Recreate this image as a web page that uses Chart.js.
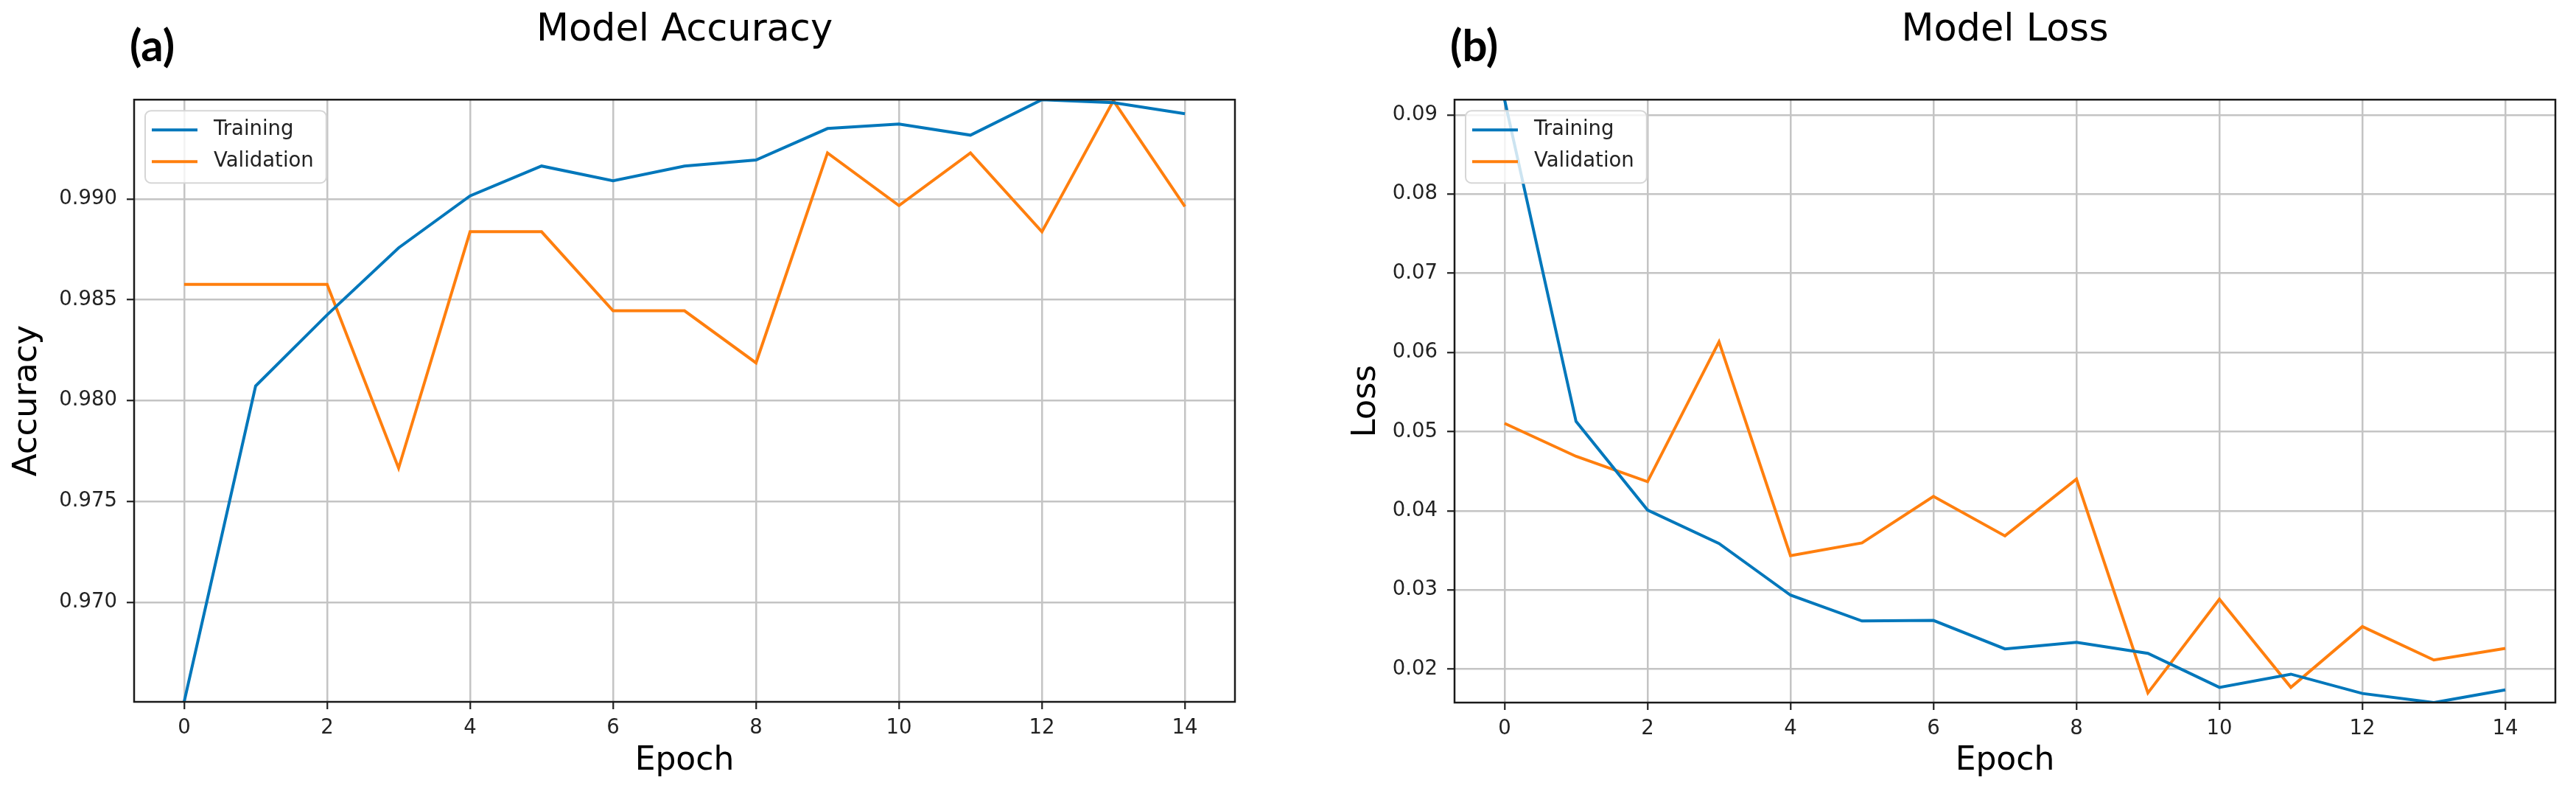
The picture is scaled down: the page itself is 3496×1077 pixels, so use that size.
<!DOCTYPE html>
<html>
<head>
<meta charset="utf-8">
<title>Model Accuracy / Model Loss</title>
<script src="https://cdn.jsdelivr.net/npm/chart.js@4.4.1/dist/chart.umd.min.js"></script>
<style>
  html, body { margin: 0; padding: 0; background: #fff; }
  #wrap { position: relative; width: 3496px; height: 1077px; }
  canvas { position: absolute; top: 0; }
  #accChart { left: 0; }
  #lossChart { left: 1748px; }
</style>
</head>
<body>
<div id="wrap">
  <canvas id="accChart" width="1748" height="1077"></canvas>
  <canvas id="lossChart" width="1748" height="1077"></canvas>
</div>
<script>
// epochs (x axis)
const epochs = [0, 1, 2, 3, 4, 5, 6, 7, 8, 9, 10, 11, 12, 13, 14];
const epochTicks = [0, 2, 4, 6, 8, 10, 12, 14];

// (a) accuracy
const accTraining = [0.96506, 0.98072, 0.98425, 0.98757, 0.99015, 0.99163, 0.99090, 0.99163,
                     0.99193, 0.99349, 0.99371, 0.99316, 0.99492, 0.99477, 0.99422];
const accValidation = [0.98576, 0.98576, 0.98576, 0.97665, 0.98837, 0.98837, 0.98445, 0.98445,
                       0.98187, 0.99228, 0.98967, 0.99228, 0.98837, 0.99487, 0.98962];
const accTicks = [0.970, 0.975, 0.980, 0.985, 0.990];

// (b) loss
const lossTraining = [0.09192, 0.05129, 0.04010, 0.03587, 0.02935, 0.02608, 0.02615, 0.02256,
                      0.02340, 0.02199, 0.01770, 0.01937, 0.01693, 0.01578, 0.01738];
const lossValidation = [0.05104, 0.04688, 0.04368, 0.06134, 0.03434, 0.03594, 0.04182, 0.03683,
                        0.04400, 0.01700, 0.02884, 0.01770, 0.02538, 0.02116, 0.02263];
const lossTicks = [0.02, 0.03, 0.04, 0.05, 0.06, 0.07, 0.08, 0.09];

const TRAIN_COLOR = '#0077bb';
const VAL_COLOR = '#ff7f0e';
const TEXT_COLOR = '#222';

Chart.defaults.font.family = '"DejaVu Sans", sans-serif';
Chart.defaults.color = TEXT_COLOR;

// box around the plot area (all four spines)
const axesFrame = {
    id: 'axesFrame',
    afterDatasetsDraw(chart) {
        const { ctx, chartArea: a } = chart;
        ctx.save();
        ctx.strokeStyle = '#1a1a1a';
        ctx.lineWidth = 2.5;
        ctx.strokeRect(a.left, a.top, a.right - a.left, a.bottom - a.top);
        ctx.restore();
    }
};

// legend with a rounded frame, drawn inside the upper left corner
const boxLegend = {
    id: 'boxLegend',
    afterDraw(chart) {
        const { ctx, chartArea: a } = chart;
        const sets = chart.data.datasets;
        ctx.save();
        ctx.font = '27.5px "DejaVu Sans"';
        const textW = Math.max(...sets.map(d => ctx.measureText(d.label).width));
        const x = a.left + 15, y = a.top + 15;
        const w = 9 + 62 + 22 + textW + 17, h = 98;
        ctx.beginPath();
        ctx.roundRect(x, y, w, h, 8);
        ctx.fillStyle = 'rgba(255,255,255,0.8)';
        ctx.fill();
        ctx.strokeStyle = '#d6d6d6';
        ctx.lineWidth = 2;
        ctx.stroke();
        sets.forEach((d, i) => {
            const ly = y + 26 + i * 43;
            ctx.beginPath();
            ctx.moveTo(x + 9, ly);
            ctx.lineTo(x + 71, ly);
            ctx.strokeStyle = d.borderColor;
            ctx.lineWidth = 4;
            ctx.stroke();
            ctx.fillStyle = TEXT_COLOR;
            ctx.textBaseline = 'middle';
            ctx.fillText(d.label, x + 93, ly);
        });
        ctx.restore();
    }
};

// "(a)" / "(b)" panel letter
const panelLabel = {
    id: 'panelLabel',
    afterDraw(chart, args, opts) {
        const { ctx, chartArea } = chart;
        ctx.save();
        ctx.font = 'bold 60px Lato, "DejaVu Sans"';
        ctx.fillStyle = '#000';
        ctx.textBaseline = 'alphabetic';
        ctx.fillText(opts.text, chartArea.left - 6, 83);
        ctx.restore();
    }
};

function makeChart(canvasId, p) {
    const xPad = (epochs[epochs.length - 1] - epochs[0]) * 0.05;
    const all = p.training.concat(p.validation);
    const toPoints = arr => arr.map((v, i) => ({ x: epochs[i], y: v }));

    const ctx = document.getElementById(canvasId).getContext('2d');
    return new Chart(ctx, {
        type: 'line',
        data: {
            datasets: [
                { label: 'Training', data: toPoints(p.training), borderColor: TRAIN_COLOR },
                { label: 'Validation', data: toPoints(p.validation), borderColor: VAL_COLOR }
            ]
        },
        options: {
            responsive: false,
            devicePixelRatio: 1,
            animation: false,
            events: [],
            layout: { padding: { left: 0, top: 0, right: p.rightPad, bottom: 0 } },
            elements: {
                line: { borderWidth: 4, tension: 0, fill: false },
                point: { radius: 0 }
            },
            datasets: { line: { clip: 0 } },
            plugins: {
                legend: { display: false },
                tooltip: { enabled: false },
                title: {
                    display: true,
                    text: p.title,
                    fullSize: false,
                    color: '#000',
                    font: { size: 51, weight: 'normal' },
                    padding: { top: 11, bottom: 63 }
                },
                panelLabel: { text: p.panel }
            },
            scales: {
                x: {
                    type: 'linear',
                    min: epochs[0] - xPad,
                    max: epochs[epochs.length - 1] + xPad,
                    afterBuildTicks: s => { s.ticks = epochTicks.map(v => ({ value: v })); },
                    afterFit: s => { s.height = p.xAxisHeight; },
                    ticks: { autoSkip: false, maxRotation: 0, padding: 9, font: { size: 27.5 }, color: TEXT_COLOR },
                    grid: { color: '#c4c4c4', lineWidth: 2.5, tickLength: 10, tickColor: '#222', tickWidth: 2.2 },
                    border: { display: false },
                    title: { display: true, text: 'Epoch', color: '#000', font: { size: 44 }, padding: { top: 0, bottom: 17.8 } }
                },
                y: {
                    type: 'linear',
                    min: Math.min(...all),
                    max: Math.max(...all),
                    afterBuildTicks: s => { s.ticks = p.yTicks.map(v => ({ value: v })); },
                    afterFit: s => { s.width = p.yAxisWidth; },
                    ticks: { padding: 13, font: { size: 27.5 }, color: TEXT_COLOR, callback: v => v.toFixed(p.decimals) },
                    grid: { color: '#c4c4c4', lineWidth: 2.5, tickLength: 10, tickColor: '#222', tickWidth: 2.2 },
                    border: { display: false },
                    title: { display: true, text: p.yTitle, color: '#000', font: { size: 45 }, padding: { top: p.yTitlePad, bottom: 0 } }
                }
            }
        },
        plugins: [axesFrame, boxLegend, panelLabel]
    });
}

makeChart('accChart', {
    title: 'Model Accuracy', yTitle: 'Accuracy', panel: '(a)',
    training: accTraining, validation: accValidation,
    yTicks: accTicks, decimals: 3,
    yAxisWidth: 182, rightPad: 72, xAxisHeight: 125, yTitlePad: 10.4
});

makeChart('lossChart', {
    title: 'Model Loss', yTitle: 'Loss', panel: '(b)',
    training: lossTraining, validation: lossValidation,
    yTicks: lossTicks, decimals: 2,
    yAxisWidth: 226, rightPad: 28, xAxisHeight: 124, yTitlePad: 79.4
});
</script>
</body>
</html>
